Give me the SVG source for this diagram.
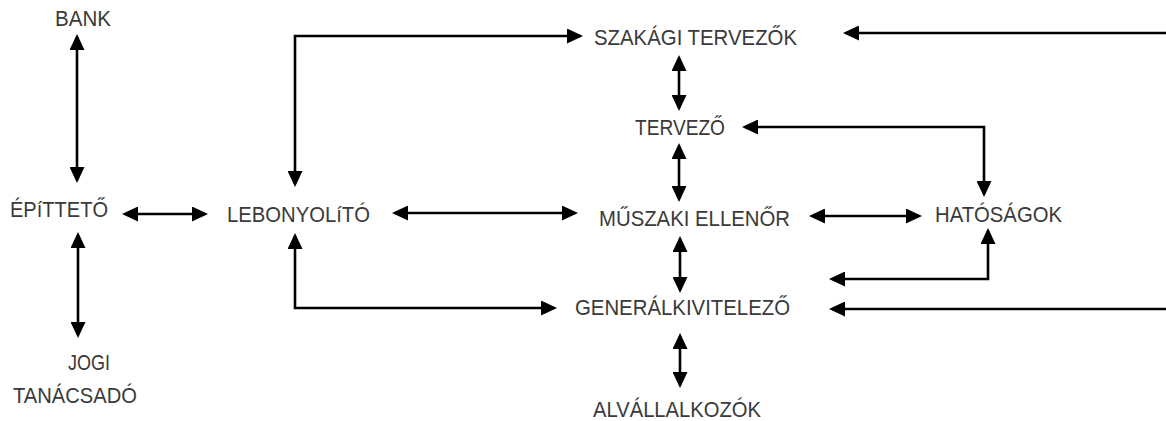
<svg xmlns="http://www.w3.org/2000/svg" width="1166" height="421" viewBox="0 0 1166 421">
<style>
text{font-family:"Liberation Sans",Arial,sans-serif;font-size:21.5px;fill:#3a3a3a}
.c{fill:none;stroke:#000;stroke-width:2.6;marker-start:url(#a);marker-end:url(#a)}
.e{fill:none;stroke:#000;stroke-width:2.6;marker-end:url(#a)}
</style>
<defs>
<marker id="a" viewBox="0 0 16 15" refX="13" refY="7.5" markerWidth="16" markerHeight="15" markerUnits="userSpaceOnUse" orient="auto-start-reverse">
<path d="M0,0 L16,7.5 L0,15 Z" fill="#000"/>
</marker>
</defs>
<rect width="1166" height="421" fill="#fff"/>
<g id="connectors">
<path class="c" d="M77,37 V180"/>
<path class="c" d="M78,235 V335"/>
<path class="c" d="M125,214 H205"/>
<path class="c" d="M295,184 V36 H580"/>
<path class="e" d="M1166,33 H846"/>
<path class="c" d="M679,58 V108"/>
<path class="c" d="M745,127 H984 V194"/>
<path class="c" d="M679,146 V199"/>
<path class="c" d="M395,213 H575"/>
<path class="c" d="M812,216 H919"/>
<path class="c" d="M680,239 V290"/>
<path class="c" d="M832,279 H988 V231"/>
<path class="c" d="M295,236 V308 H554"/>
<path class="e" d="M1166,309 H832"/>
<path class="c" d="M680,336 V385"/>
</g>
<g id="bank"><text x="55" y="26" textLength="56" lengthAdjust="spacingAndGlyphs">BANK</text></g>
<g id="szakagi"><text x="594" y="45" textLength="203" lengthAdjust="spacingAndGlyphs">SZAKÁGI TERVEZŐK</text></g>
<g id="tervezo"><text x="635" y="135" textLength="90" lengthAdjust="spacingAndGlyphs">TERVEZŐ</text></g>
<g id="epitteto"><text x="10" y="217" textLength="98" lengthAdjust="spacingAndGlyphs">ÉPíTTETŐ</text></g>
<g id="lebonyolito"><text x="227" y="222" textLength="143" lengthAdjust="spacingAndGlyphs">LEBONYOLíTÓ</text></g>
<g id="muszaki"><text x="599" y="226" textLength="191" lengthAdjust="spacingAndGlyphs">MŰSZAKI ELLENŐR</text></g>
<g id="hatosagok"><text x="935" y="222" textLength="127" lengthAdjust="spacingAndGlyphs">HATÓSÁGOK</text></g>
<g id="general"><text x="575" y="315" textLength="215" lengthAdjust="spacingAndGlyphs">GENERÁLKIVITELEZŐ</text></g>
<g id="alvallalkozok"><text x="593" y="417" textLength="168" lengthAdjust="spacingAndGlyphs">ALVÁLLALKOZÓK</text></g>
<g id="jogi"><text x="68" y="370" textLength="42" lengthAdjust="spacingAndGlyphs">JOGI</text><text x="13" y="403" textLength="124" lengthAdjust="spacingAndGlyphs">TANÁCSADÓ</text></g>
</svg>
